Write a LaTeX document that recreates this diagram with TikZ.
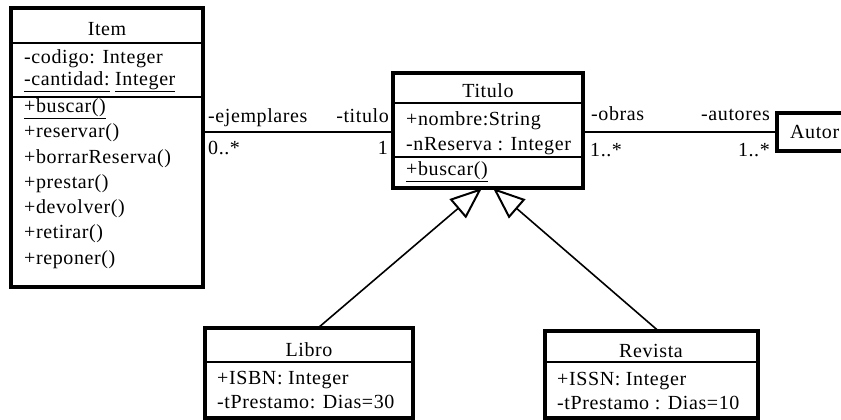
\documentclass[tikz,border=0pt]{standalone}
\usepackage{fontspec}
\setmainfont{Liberation Serif}[LetterSpace=3]
\usetikzlibrary{arrows.meta}
% underline with a common depth, so neighbouring words line up
\newcommand\umlul[1]{\underline{#1\vphantom{gy()}}}
\tikzset{
  umlfont/.style={font=\fontsize{20}{24}\selectfont},
  classbox/.style={draw, line width=3.3pt, inner sep=0pt, outer sep=0pt, anchor=north west},
  compsep/.style={line width=2pt},
  member/.style={umlfont, inner sep=0pt, anchor=base west},
  classname/.style={umlfont, inner sep=0pt, anchor=base},
  endlabel/.style={umlfont, inner sep=0pt},
  assoc/.style={line width=1.8pt},
  generalize/.style={line width=1.6pt,
    -{Triangle[open, length=32pt, width=25pt, line width=2pt]}},
}
\begin{document}
\begin{tikzpicture}[x=1pt, y=-1pt]
\useasboundingbox (0,0) rectangle (841,420);
\clip (0,0) rectangle (841,420);

% ---------- Item ----------
\node[classbox, minimum width=192pt, minimum height=279pt] (item) at (11,8) {};
\draw[compsep] (item.west |- 0,43) -- (item.east |- 0,43);
\draw[compsep] (item.west |- 0,97) -- (item.east |- 0,97);
\node[classname] (itemname) at (107,36) {Item};
\node[member] (itema1) at (24,64) {-codigo: Integer};
\node[member] (itema2) at (24,85) {\umlul{-cantidad:} \umlul{Integer}};
\node[member] (itemm1) at (24,112) {\umlul{+buscar()}};
\node[member] (itemm2) at (24,137.5) {+reservar()};
\node[member] (itemm3) at (24,163) {+borrarReserva()};
\node[member] (itemm4) at (24,188) {+prestar()};
\node[member] (itemm5) at (24,213) {+devolver()};
\node[member] (itemm6) at (24,238.5) {+retirar()};
\node[member] (itemm7) at (24,264) {+reponer()};

% ---------- Titulo ----------
\node[classbox, minimum width=190pt, minimum height=115pt] (titulo) at (393,73) {};
\draw[compsep] (titulo.west |- 0,103) -- (titulo.east |- 0,103);
\draw[compsep] (titulo.west |- 0,157) -- (titulo.east |- 0,157);
\node[classname] (tituloname) at (488,97) {Titulo};
\node[member] (tituloa1) at (406,125) {+nombre:String};
\node[member] (tituloa2) at (406,150) {-nReserva : Integer};
\node[member] (titulom1) at (406,175) {\umlul{+buscar()}};

% ---------- Autor ----------
\node[classbox, minimum width=100pt, minimum height=38pt] (autor) at (777,113) {};
\node[member] (autorname) at (790,139) {Autor};

% ---------- Libro ----------
\node[classbox, minimum width=208pt, minimum height=90pt] (libro) at (205,328) {};
\draw[compsep] (libro.west |- 0,362) -- (libro.east |- 0,362);
\node[classname] (libroname) at (309,356) {Libro};
\node[member] (libroa1) at (217,384) {+ISBN: Integer};
\node[member] (libroa2) at (217,408) {-tPrestamo: Dias=30};

% ---------- Revista ----------
\node[classbox, minimum width=213pt, minimum height=87pt] (revista) at (545,331) {};
\draw[compsep] (revista.west |- 0,362) -- (revista.east |- 0,362);
\node[classname] (revistaname) at (651,357) {Revista};
\node[member] (revistaa1) at (557,385) {+ISSN: Integer};
\node[member] (revistaa2) at (557,409) {-tPrestamo : Dias=10};

% ---------- associations ----------
\coordinate (assocy) at (0,132);
\draw[assoc] (item.east |- assocy) -- (titulo.west |- assocy);
\node[endlabel, anchor=base west] (ejemplares) at (208,122) {-ejemplares};
\node[endlabel, anchor=base east] (titulorole) at (389,122) {-titulo};
\node[endlabel, anchor=base west] (multej) at (208,154) {0..*};
\node[endlabel, anchor=base east] (multti) at (388,154) {1};

\draw[assoc] (titulo.east |- autor.west) -- (autor.west);
\node[endlabel, anchor=base west] (obras) at (591,121) {-obras};
\node[endlabel, anchor=base east] (autores) at (770,121) {-autores};
\node[endlabel, anchor=base west] (multob) at (590,156) {1..*};
\node[endlabel, anchor=base east] (multau) at (770,156) {1..*};

% ---------- generalizations ----------
\draw[generalize] ([xshift=9pt]libro.north) -- ([xshift=-6pt]titulo.south);
\draw[generalize] ([xshift=7pt]revista.north) -- ([xshift=5pt]titulo.south);
\end{tikzpicture}
\end{document}
